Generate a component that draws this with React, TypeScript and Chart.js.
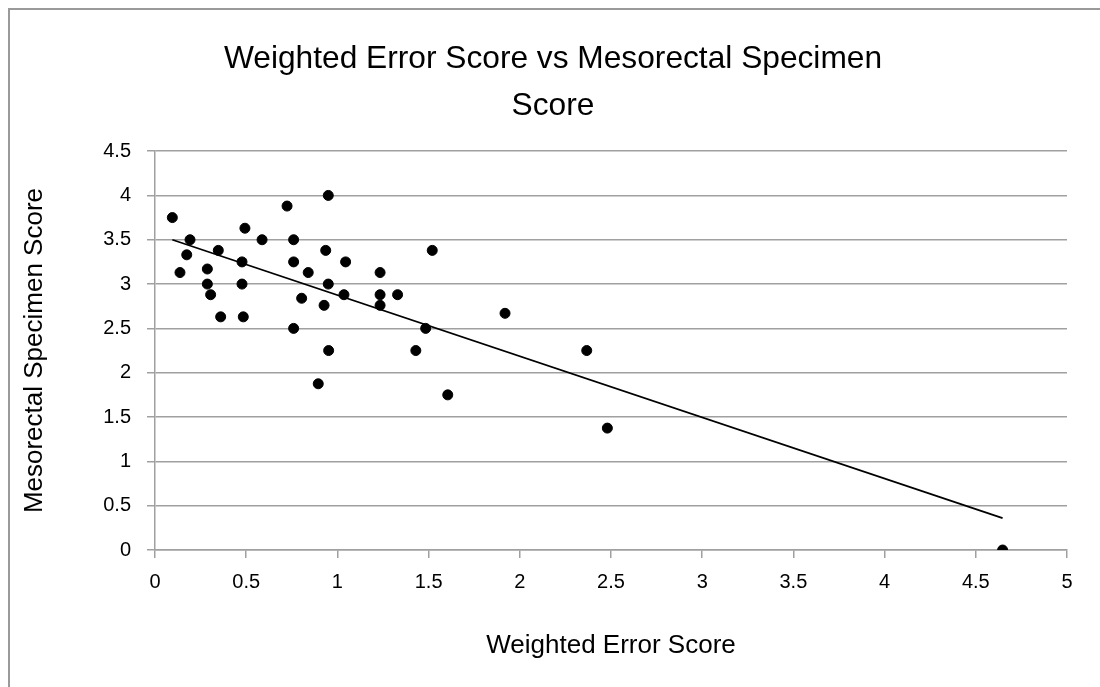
import React, { useEffect, useRef } from "react";
import { Chart, registerables } from "chart.js";

Chart.register(...registerables);

// Weighted Error Score (x) vs Mesorectal Specimen Score (y)
const errorScores: number[] = [
  0.095, 0.137, 0.174, 0.192, 0.287, 0.287, 0.305, 0.347, 0.36, 0.493,
  0.477, 0.477, 0.484, 0.587, 0.724, 0.76, 0.76, 0.84, 0.804, 0.76,
  0.927, 0.936, 0.95, 0.95, 0.952, 0.895, 1.045, 1.036, 1.234, 1.234,
  1.33, 1.234, 1.52, 1.919, 1.484, 1.43, 2.367, 1.605, 2.48, 4.647,
];
const specimenScores: number[] = [
  3.75, 3.13, 3.33, 3.5, 3.17, 3.0, 2.88, 3.38, 2.63, 3.63,
  3.25, 3.0, 2.63, 3.5, 3.88, 3.5, 3.25, 3.13, 2.84, 2.5,
  2.76, 3.38, 4.0, 3.0, 2.25, 1.875, 3.25, 2.88, 3.13, 2.88,
  2.88, 2.76, 3.38, 2.67, 2.5, 2.25, 2.25, 1.75, 1.375, 0,
];
// Linear trendline end points
const trendX: number[] = [0.095, 4.647];
const trendY: number[] = [3.5, 0.36];

const titleLines: string[] = ["Weighted Error Score vs Mesorectal Specimen", "Score"];
const xTitle = "Weighted Error Score";
const yTitle = "Mesorectal Specimen Score";

const FONT = "'Liberation Sans', Arial, sans-serif";
const GRID = "#a0a0a0";

const fmt = (v: any) => String(Number(v));

export default function App() {
  const ref = useRef<HTMLCanvasElement | null>(null);

  useEffect(() => {
    document.body.style.margin = "0";
    document.body.style.overflow = "hidden";
    const canvas = ref.current;
    if (!canvas) return;
    const points = errorScores.map((x, i) => ({ x, y: specimenScores[i] }));
    const trend = trendX.map((x, i) => ({ x, y: trendY[i] }));
    const chart = new Chart(canvas, {
      type: "scatter",
      data: {
        datasets: [
          {
            label: "Scores",
            data: points,
            backgroundColor: "#000",
            borderColor: "#000",
            pointRadius: 5,
            pointHoverRadius: 5,
            order: 1,
          },
          {
            label: "Trend",
            data: trend,
            showLine: true,
            borderColor: "#000",
            borderWidth: 1.8,
            pointRadius: 0,
            fill: false,
            order: 2,
          } as any,
        ],
      },
      options: {
        responsive: false,
        animation: false,
        events: [],
        layout: { padding: { left: 39, right: 33, top: 20, bottom: 10 } },
        plugins: {
          legend: { display: false },
          tooltip: { enabled: false },
          title: {
            display: true,
            text: titleLines,
            color: "#000",
            font: { family: FONT, size: 31.7, weight: "normal", lineHeight: 1.5 },
            padding: { top: 15, bottom: 21 },
          },
        },
        scales: {
          x: {
            type: "linear",
            min: 0,
            max: 5,
            afterFit: (s: any) => {
              s.height = 127;
            },
            ticks: {
              stepSize: 0.5,
              color: "#000",
              padding: 12,
              font: { family: FONT, size: 20 },
              callback: fmt,
            },
            grid: {
              drawOnChartArea: false,
              drawTicks: true,
              tickLength: 8,
              color: GRID,
              lineWidth: 1.5,
            },
            border: { color: GRID, width: 1.5 },
            title: {
              display: true,
              text: xTitle,
              color: "#000",
              font: { family: FONT, size: 26 },
              padding: { top: 0, bottom: 16 },
            },
          },
          y: {
            type: "linear",
            min: 0,
            max: 4.5,
            afterFit: (s: any) => {
              s.width = 116;
            },
            ticks: {
              stepSize: 0.5,
              color: "#000",
              padding: 16,
              font: { family: FONT, size: 20 },
              callback: fmt,
            },
            grid: {
              drawOnChartArea: true,
              drawTicks: true,
              tickLength: 8,
              color: GRID,
              lineWidth: 1.5,
            },
            border: { color: GRID, width: 1.5 },
            title: {
              display: true,
              text: yTitle,
              color: "#000",
              font: { family: FONT, size: 26 },
              padding: { top: -19.6, bottom: 0 },
            },
          },
        },
      },
    });
    return () => chart.destroy();
  }, []);

  return (
    <div style={{ position: "relative", width: 1100, height: 687, overflow: "hidden", background: "#fff" }}>
      <canvas ref={ref} width={1100} height={687} style={{ position: "absolute", left: 0, top: 0 }} />
      <div
        style={{
          position: "absolute",
          left: 8,
          top: 8,
          width: 1200,
          height: 800,
          border: "2px solid #9a9a9a",
          pointerEvents: "none",
        }}
      />
    </div>
  );
}
